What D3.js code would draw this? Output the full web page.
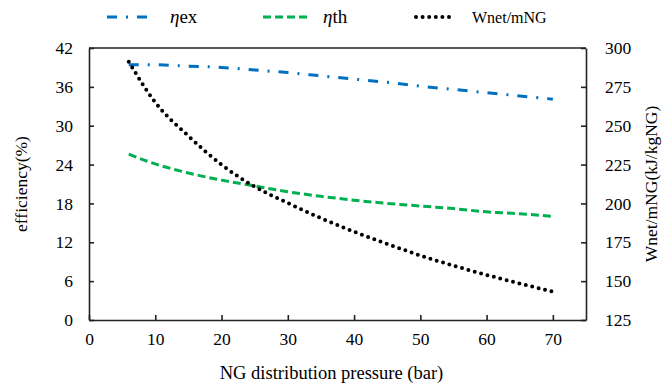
<!DOCTYPE html>
<html>
<head>
<meta charset="utf-8">
<script src="https://cdn.jsdelivr.net/npm/d3@7"></script>
<style>
  body { margin: 0; background: #fff; }
</style>
</head>
<body>
<div id="chart"></div>
<script>
// values
let pressure = [6, 10, 15, 20, 25, 30, 35, 40, 45, 50, 55, 60, 65, 70]
let eta_ex   = [39.4, 39.4, 39.2, 39.0, 38.6, 38.2, 37.7, 37.2, 36.7, 36.1, 35.6, 35.1, 34.6, 34.1]
let eta_th   = [25.6, 24.1, 22.7, 21.6, 20.7, 19.8, 19.1, 18.5, 18.0, 17.6, 17.2, 16.7, 16.4, 16.0]
let wnet     = [291.2, 265, 243.4, 224.9, 210.8, 200.3, 190.5, 181.8, 174, 166.5, 160, 154, 148.5, 143.2]

let xTicks = [0, 10, 20, 30, 40, 50, 60, 70]
let yLeftTicks = [0, 6, 12, 18, 24, 30, 36, 42]
let yRightTicks = [125, 150, 175, 200, 225, 250, 275, 300]

const serif = "Liberation Serif, Times New Roman, serif"

let w_full = 672, h_full = 387
var margin = {top: 48, right: 86, bottom: 67, left: 89}
let width = w_full - margin.left - margin.right
let height = h_full - margin.top - margin.bottom

const svg = d3.select("#chart")
    .append("svg")
    .attr("width", w_full)
    .attr("height", h_full)
    .attr("font-family", serif)

const g = svg.append("g")
    .attr("transform", `translate(${margin.left},${margin.top})`)

const x = d3.scaleLinear().domain([0, 75]).range([0, width])
const yL = d3.scaleLinear().domain([0, 42]).range([height, 0])
const yR = d3.scaleLinear().domain([125, 300]).range([height, 0])

// axes, ticks inside the frame
g.append("g")
    .attr("class", "x axis")
    .attr("transform", `translate(0,${height})`)
    .call(d3.axisBottom(x).tickValues(xTicks).tickSizeInner(-5).tickSizeOuter(0).tickPadding(13))

g.append("g")
    .attr("class", "y axis")
    .call(d3.axisLeft(yL).tickValues(yLeftTicks).tickSizeInner(-5).tickSizeOuter(0).tickPadding(16))

g.append("g")
    .attr("class", "y2 axis")
    .attr("transform", `translate(${width},0)`)
    .call(d3.axisRight(yR).tickValues(yRightTicks).tickSizeInner(-5).tickSizeOuter(0).tickPadding(19))

// top frame line
g.append("line")
    .attr("x1", 0).attr("x2", width)
    .attr("y1", 0).attr("y2", 0)
    .attr("stroke", "#222").attr("stroke-width", 1.6)

g.selectAll(".axis")
    .attr("font-family", serif)
    .attr("font-size", 17.5)
g.selectAll(".axis path, .axis line")
    .attr("stroke", "#222")
    .attr("stroke-width", 1.6)
g.selectAll(".axis text")
    .attr("fill", "#000")

const series = [
    {name: "ex", values: eta_ex, y: yL, color: "#0070c0", dash: "10 9 2 9", width: 3, cap: "butt"},
    {name: "th", values: eta_th, y: yL, color: "#00b050", dash: "8 4", width: 3, cap: "butt"},
    {name: "wnet", values: wnet, y: yR, color: "#000", dash: "0 6.6", width: 4, cap: "round"}
]

series.forEach(s => {
    g.append("path")
        .datum(pressure.map((p, i) => [p, s.values[i]]))
        .attr("fill", "none")
        .attr("stroke", s.color)
        .attr("stroke-width", s.width)
        .attr("stroke-dasharray", s.dash)
        .attr("stroke-linecap", s.cap)
        .attr("d", d3.line()
            .curve(d3.curveMonotoneX)
            .x(d => x(d[0]))
            .y(d => s.y(d[1])))
})

// axis titles
svg.append("text")
    .text("NG distribution pressure (bar)")
    .attr("x", margin.left + width / 2 - 6)
    .attr("y", 379)
    .attr("text-anchor", "middle")
    .attr("font-size", 18.5)

svg.append("text")
    .text("efficiency(%)")
    .attr("transform", `translate(27,${margin.top + height / 2}) rotate(-90)`)
    .attr("text-anchor", "middle")
    .attr("font-size", 17.5)

svg.append("text")
    .text("Wnet/mNG(kJ/kgNG)")
    .attr("transform", `translate(657,${margin.top + height / 2}) rotate(-90)`)
    .attr("text-anchor", "middle")
    .attr("font-size", 17.5)

// legend
const legend = svg.append("g").attr("class", "legend")
const legendItems = [
    {x0: 107, x1: 148, tx: 170, s: series[0], label: "ex", eta: true},
    {x0: 263, x1: 310, tx: 323, s: series[1], label: "th", eta: true},
    {x0: 416, x1: 452, tx: 472, s: series[2], label: "Wnet/mNG", eta: false}
]
legendItems.forEach(d => {
    legend.append("line")
        .attr("x1", d.x0).attr("x2", d.x1)
        .attr("y1", 17).attr("y2", 17)
        .attr("stroke", d.s.color)
        .attr("stroke-width", d.s.width)
        .attr("stroke-dasharray", d.s.dash)
        .attr("stroke-linecap", d.s.cap)
    let t = legend.append("text")
        .attr("x", d.tx)
        .attr("y", 23)
        .attr("font-size", d.eta ? 19 : 16)
    if (d.eta) {
        t.append("tspan").text("η").attr("font-style", "italic")
        t.append("tspan").text(d.label)
    } else {
        t.text(d.label)
    }
})
</script>
</body>
</html>
